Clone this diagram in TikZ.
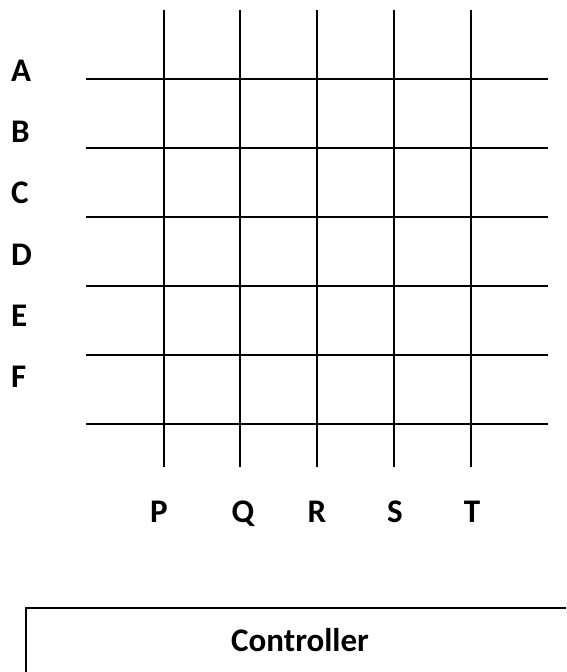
\documentclass[tikz,border=0pt]{standalone}
\usepackage{fontspec}
\setmainfont{Carlito}
\usepackage{tikz}

\begin{document}
\begin{tikzpicture}[
  x=1pt, y=-1pt,
  wire/.style={black, line width=2.2pt},
  lbl/.style={font=\fontsize{33}{40}\selectfont\bfseries, inner sep=0pt, anchor=base},
  rowlbl/.style={lbl, anchor=base west},
]
\useasboundingbox (0,0) rectangle (566,672);

% row labels
\node[rowlbl] (rowA) at (11,81.5) {A};
\node[rowlbl] (rowB) at (11,142) {B};
\node[rowlbl] (rowC) at (11,203.5) {C};
\node[rowlbl] (rowD) at (11,265) {D};
\node[rowlbl] (rowE) at (11,326) {E};
\node[rowlbl] (rowF) at (11,387) {F};

% column labels
\node[lbl] (colP) at (159,522) {P};
\node[lbl] (colQ) at (243,522) {Q};
\node[lbl] (colR) at (317,522) {R};
\node[lbl] (colS) at (395,522) {S};
\node[lbl] (colT) at (472,522) {T};

% horizontal wires
\draw[wire] (86,79) -- (548,79);
\draw[wire] (86,148) -- (548,148);
\draw[wire] (86,217) -- (548,217);
\draw[wire] (86,286) -- (548,286);
\draw[wire] (86,355) -- (548,355);
\draw[wire] (86,424) -- (548,424);

% vertical wires
\draw[wire] (164,10) -- (164,467);
\draw[wire] (240,10) -- (240,467);
\draw[wire] (317,10) -- (317,467);
\draw[wire] (394,10) -- (394,467);
\draw[wire] (471,10) -- (471,467);

% controller box (cut at the page edge)
\node[lbl] (ctrl) at (300,651) {Controller};
\draw[wire] (26,672) |- (566,608);
\end{tikzpicture}
\end{document}
